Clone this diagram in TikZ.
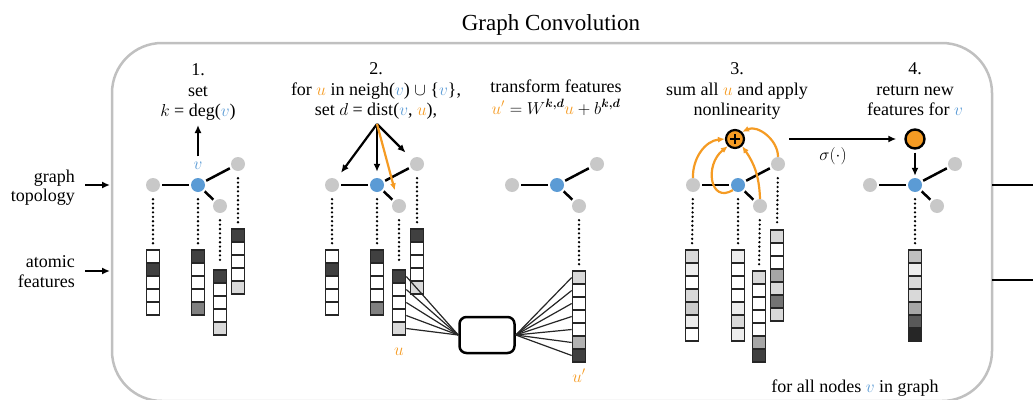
\documentclass[tikz,border=0pt]{standalone}
\usepackage{amsmath}
\usepackage{fontspec}
\setmainfont{Liberation Serif}
\usetikzlibrary{arrows.meta}
\definecolor{vblue}{RGB}{91,155,213}
\definecolor{uorange}{RGB}{245,155,35}
\definecolor{ngray}{RGB}{200,200,200}
\definecolor{framegray}{RGB}{192,192,192}
\tikzset{
  txt/.style={anchor=base, font=\fontsize{18}{21}\selectfont, inner sep=0pt},
  gnode/.style={circle, fill=ngray, minimum size=14pt, inner sep=0pt},
  vnode/.style={circle, fill=vblue, minimum size=14pt, inner sep=0pt},
  edge/.style={line width=2.5pt, shorten <=2pt, shorten >=2pt},
  dots/.style={line width=2.6pt, dash pattern=on 0pt off 4.4pt, line cap=round, shorten <=7pt, shorten >=6pt},
  cell/.style={draw=black!85, line width=1.6pt, minimum width=13pt, minimum height=13pt, inner sep=0pt},
  arr/.style={line width=2.2pt, -{Latex[length=8pt,width=7pt]}},
  oarr/.style={uorange, line width=2.2pt, -{Latex[length=7pt,width=6pt]}},
  thin/.style={line width=1.2pt, black!85},
}
\newcommand{\mkgraph}[3]{%
  \node[gnode] (#1l) at (#2-45,#3) {};
  \node[vnode] (#1v) at (#2,#3) {};
  \node[gnode] (#1r) at (#2+40,#3-21) {};
  \node[gnode] (#1d) at (#2+22,#3+21) {};
  \draw[edge] (#1l) -- (#1v);
  \draw[edge] (#1v) -- (#1r);
  \draw[edge] (#1v) -- (#1d);
}
\newcommand{\fvec}[4]{%
  \foreach \cc [count=\i] in {#4} {
    \node[cell, fill=\cc] (#1-\i) at (#2, #3+13*\i-6.5) {};
  }
}
\begin{document}
\begin{tikzpicture}[x=1pt, y=-1pt]
\useasboundingbox (0,0) rectangle (1033,399);
% frame
\draw[framegray, line width=2.5pt, rounded corners=50pt] (112,43) rectangle (992,401);
\node[anchor=base, font=\fontsize{23}{26}\selectfont, inner sep=0pt] (title) at (551,30) {Graph Convolution};

% left inputs
\node[txt, anchor=base east] (gt1) at (75,182) {graph};
\node[txt, anchor=base east] (gt2) at (75,201) {topology};
\node[txt, anchor=base east] (af1) at (75,267) {atomic};
\node[txt, anchor=base east] (af2) at (75,287) {features};
\coordinate (gin0) at (85,185); \coordinate (gin1) at (110,185);
\coordinate (ain0) at (85,271); \coordinate (ain1) at (110,271);
\draw[arr] (gin0) -- (gin1);
\draw[arr] (ain0) -- (ain1);
% right outputs
\coordinate (go0) at (992,185); \coordinate (go1) at (1035,185);
\coordinate (ao0) at (992,280); \coordinate (ao1) at (1035,280);
\draw[line width=2.5pt] (go0) -- (go1);
\draw[line width=2.5pt] (ao0) -- (ao1);

% ---------- step 1
\node[txt] (t1a) at (198,75) {1.};
\node[txt] (t1b) at (198,96) {set};
\node[txt] (t1c) at (198,116) {$k$ = deg($\textcolor{vblue}{v}$)};
\mkgraph{a}{198}{185}
\node[txt, text=vblue] (v1) at (198,169) {$v$};
\draw[arr, shorten <=5pt, shorten >=9pt] (v1.north) -- (t1c.base);
\fvec{al}{153}{250}{white,black!75,white,white,white}
\fvec{av}{198}{250}{black!75,white,white,white,black!50}
\fvec{ad}{220}{270}{black!75,white,white,white,black!15}
\fvec{ar}{238}{229}{black!75,white,white,white,black!15}
\draw[dots] (al) -- (al-1.north);
\draw[dots] (av) -- (av-1.north);
\draw[dots] (ad) -- (ad-1.north);
\draw[dots] (ar) -- (ar-1.north);

% ---------- step 2
\node[txt] (t2a) at (376,74) {2.};
\node[txt] (t2b) at (376,95) {for $\textcolor{uorange}{u}$ in neigh($\textcolor{vblue}{v}$) $\cup$ \{$\textcolor{vblue}{v}$\},};
\node[txt] (t2c) at (376,115) {set $d$ = dist($\textcolor{vblue}{v}$, $\textcolor{uorange}{u}$),};
\mkgraph{b}{377}{185}
\coordinate (s2o) at (377,124);
\draw[arr, shorten >=8pt] (s2o) -- (bl);
\draw[arr, shorten >=6pt] (s2o) -- (bv);
\draw[arr, shorten >=9pt] (s2o) -- (br);
\draw[oarr, shorten >=9pt] (s2o) -- (bd);
\fvec{bl}{332}{250}{white,black!75,white,white,white}
\fvec{bv}{377}{250}{black!75,white,white,white,black!50}
\fvec{br}{417}{229}{black!75,white,white,white,black!15}
\fvec{bd}{399}{270}{black!75,white,white,white,black!15}
\draw[dots] (bl) -- (bl-1.north);
\draw[dots] (bv) -- (bv-1.north);
\draw[dots] (bd) -- (bd-1.north);
\draw[dots] (br) -- (br-1.north);
\node[txt, text=uorange] (ulab) at (399,355) {$u$};

% transform
\node[txt] (t5a) at (556,92) {transform features};
\node[txt] (t5b) at (556,114) {$\textcolor{uorange}{u'} = W^{\boldsymbol{k,d}}\textcolor{uorange}{u} + b^{\boldsymbol{k,d}}$};
\mkgraph{c}{557}{185}
\node[draw, line width=2.5pt, rounded corners=7pt, minimum width=55pt, minimum height=36pt, inner sep=0pt] (nn) at (487,335) {};
\fvec{cu}{579}{271}{black!15,white,white,white,white,black!30,black!75}
\draw[dots] (cd) -- (cu-1.north);
\foreach \i in {1,...,5} \draw[thin] (bd-\i.east) -- (nn.west);
\foreach \i in {1,...,7} \draw[thin] (nn.east) -- (cu-\i.west);
\node[txt, text=uorange] (uplab) at (579,382) {$u'$};

% ---------- step 3
\node[txt] (t3a) at (737,74) {3.};
\node[txt] (t3b) at (737,95) {sum all $\textcolor{uorange}{u}$ and apply};
\node[txt] (t3c) at (737,115) {nonlinearity};
\mkgraph{d}{738}{185}
\fvec{dl}{692}{250}{black!15,black!7,white,black!15,black!20,black!7,white}
\fvec{dv}{738}{250}{black!7,white,white,white,black!7,black!15,black!7}
\fvec{dr}{777}{230}{black!15,white,white,black!35,black!15,black!55,black!15}
\fvec{dd}{759}{271}{black!15,white,white,white,white,black!35,black!75}
\draw[dots] (dl) -- (dl-1.north);
\draw[dots] (dv) -- (dv-1.north);
\draw[dots] (dd) -- (dd-1.north);
\draw[dots] (dr) -- (dr-1.north);
\node[circle, fill=uorange, draw, line width=2.2pt, minimum size=18pt, inner sep=0pt] (plus) at (735,139) {};
\draw[line width=1.4pt] ([xshift=-5pt]plus.center) -- ([xshift=5pt]plus.center);
\draw[line width=1.4pt] ([yshift=-5pt]plus.center) -- ([yshift=5pt]plus.center);
\draw[oarr] (dl.north) to[out=92,in=185] (plus.west);
\draw[oarr] (dr.north) to[out=90,in=25] (plus.north east);
\draw[oarr] (dd.north) to[out=92,in=-55] (plus.south east);
\draw[oarr] (dv.south west) .. controls (710,204) and (704,165) .. (plus.south west);

% sigma arrow
\node[circle, fill=uorange, draw, line width=2.4pt, minimum size=19pt, inner sep=0pt] (newf) at (915,139) {};
\draw[arr, shorten <=44pt, shorten >=8pt] (plus) -- (newf);
\node[txt] (sig) at (833,160) {$\sigma(\cdot)$};

% ---------- step 4
\node[txt] (t4a) at (915,74) {4.};
\node[txt] (t4b) at (915,95) {return new};
\node[txt] (t4c) at (915,115) {features for $\textcolor{vblue}{v}$};
\mkgraph{e}{915}{185}
\draw[arr, shorten <=3pt, shorten >=2pt] (newf) -- (ev);
\fvec{ev}{915}{250}{black!25,black!7,black!15,black!15,black!35,black!65,black!85}
\draw[dots] (ev) -- (ev-1.north);

\node[txt] (foot) at (855,392) {for all nodes $\textcolor{vblue}{v}$ in graph};
\end{tikzpicture}
\end{document}
